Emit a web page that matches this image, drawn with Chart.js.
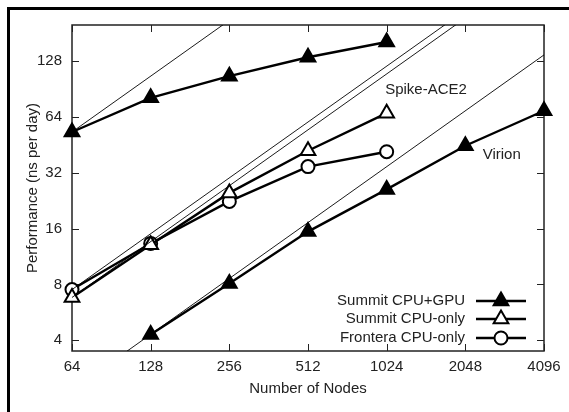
<!DOCTYPE html>
<html>
<head>
<meta charset="utf-8">
<script src="https://cdn.jsdelivr.net/npm/chart.js@4.4.1/dist/chart.umd.min.js"></script>
<style>
  html, body { margin: 0; padding: 0; background: #fff; }
</style>
</head>
<body>
<canvas id="myChart" width="569" height="412"></canvas>
<script>
const nodeTicks = [64, 128, 256, 512, 1024, 2048, 4096];
const perfTicks = [4, 8, 16, 32, 64, 128];

const spikeNodes = [64, 128, 256, 512, 1024];
const spikeGpu = [53, 81, 106, 134, 162];
const spikeCpu = [6.8, 13.1, 24.9, 42, 67];
const fronteraCpu = [7.5, 13.3, 22.4, 34.5, 41.5];

const virionNodes = [128, 256, 512, 1024, 2048, 4096];
const virionGpu = [4.3, 8.1, 15.4, 26, 44.7, 69];

// thin ideal-scaling guides, end points
const idealSpikeGpu = [[64, 53], [256, 212]];
const idealSpikeCpu = [[64, 6.8], [2048, 218]];
const idealFrontera = [[64, 7.5], [2048, 240]];
const idealVirion = [[64, 2.15], [4096, 138]];

const legendNames = ["Summit CPU+GPU", "Summit CPU-only", "Frontera CPU-only"];

const FONT = "'Liberation Sans', Arial, sans-serif";
const ink = "#000";

const pts = (xs, ys) => xs.map((x, i) => ({ x: x, y: ys[i] }));
const pairs = (arr) => arr.map(p => ({ x: p[0], y: p[1] }));

const guide = (data) => ({
  data: pairs(data),
  borderColor: ink,
  borderWidth: 0.9,
  pointRadius: 0,
  fill: false
});

const series = (data, style, filled, r) => ({
  data: data,
  clip: false,
  borderColor: ink,
  borderWidth: 2.4,
  pointStyle: style,
  pointRadius: r,
  pointBorderWidth: 2,
  pointBackgroundColor: filled ? ink : "#fff",
  pointBorderColor: ink,
  fill: false
});

const frame = {
  id: "frame",
  beforeDatasetsDraw(chart) {
    const ctx = chart.ctx;
    const a = chart.chartArea;
    const xs = chart.scales.x;
    const ys = chart.scales.y;
    ctx.save();
    // outer figure border (only top and left visible)
    ctx.strokeStyle = ink;
    ctx.lineWidth = 3;
    ctx.beginPath();
    ctx.moveTo(8.5, 412);
    ctx.lineTo(8.5, 8.5);
    ctx.lineTo(569, 8.5);
    ctx.stroke();

    // plot box
    ctx.lineWidth = 1.5;
    ctx.strokeStyle = "#222";
    ctx.strokeRect(a.left, a.top, a.right - a.left, a.bottom - a.top);

    // inward ticks on all four sides
    ctx.lineWidth = 1;
    ctx.beginPath();
    nodeTicks.forEach(v => {
      const px = Math.round(xs.getPixelForValue(v)) + 0.5;
      ctx.moveTo(px, a.bottom); ctx.lineTo(px, a.bottom - 7);
      ctx.moveTo(px, a.top); ctx.lineTo(px, a.top + 7);
    });
    perfTicks.forEach(v => {
      const py = Math.round(ys.getPixelForValue(v)) + 0.5;
      ctx.moveTo(a.left, py); ctx.lineTo(a.left + 7, py);
      ctx.moveTo(a.right, py); ctx.lineTo(a.right - 7, py);
    });
    ctx.stroke();

    // axis titles
    ctx.fillStyle = "#222";
    ctx.font = "15px " + FONT;
    ctx.textAlign = "center";
    ctx.textBaseline = "middle";
    ctx.fillText("Number of Nodes", (a.left + a.right) / 2, 389);
    ctx.save();
    ctx.translate(33, (a.top + a.bottom) / 2);
    ctx.rotate(-Math.PI / 2);
    ctx.fillText("Performance (ns per day)", 0, 0);
    ctx.restore();

    // case labels
    ctx.fillText("Spike-ACE2", xs.getPixelForValue(1448), ys.getPixelForValue(89));
    ctx.fillText("Virion", xs.getPixelForValue(2823), ys.getPixelForValue(40));

    // legend
    const styles = [["triangle", true, 8.5], ["triangle", false, 8.5], ["circle", false, 6.5]];
    const rows = [a.bottom - 50, a.bottom - 32, a.bottom - 13];
    legendNames.forEach((name, i) => {
      const y = rows[i];
      ctx.fillStyle = "#222";
      ctx.textAlign = "right";
      ctx.fillText(name, a.right - 79, y);
      ctx.strokeStyle = ink;
      ctx.lineWidth = 2.4;
      ctx.beginPath();
      ctx.moveTo(a.right - 68, y);
      ctx.lineTo(a.right - 18, y);
      ctx.stroke();
      ctx.lineWidth = 2;
      ctx.fillStyle = styles[i][1] ? ink : "#fff";
      Chart.helpers.drawPoint(ctx, { pointStyle: styles[i][0], radius: styles[i][2], rotation: 0, borderWidth: 2 }, a.right - 43, y);
    });
    ctx.restore();
  }
};

new Chart(document.getElementById("myChart"), {
  type: "line",
  data: {
    datasets: [
      guide(idealSpikeGpu),
      guide(idealSpikeCpu),
      guide(idealFrontera),
      guide(idealVirion),
      series(pts(spikeNodes, spikeGpu), "triangle", true, 8.5),
      series(pts(spikeNodes, spikeCpu), "triangle", false, 8.5),
      series(pts(spikeNodes, fronteraCpu), "circle", false, 6.5),
      series(pts(virionNodes, virionGpu), "triangle", true, 8.5)
    ]
  },
  options: {
    responsive: false,
    animation: false,
    layout: { padding: { top: 25, right: 25, left: 0, bottom: 0 } },
    plugins: { legend: { display: false }, tooltip: { enabled: false } },
    elements: { line: { tension: 0 } },
    scales: {
      x: {
        type: "logarithmic",
        min: 64,
        max: 4096,
        afterBuildTicks(scale) { scale.ticks = nodeTicks.map(v => ({ value: v })); },
        afterFit(scale) { scale.height = 61; },
        grid: { display: false, drawTicks: false },
        border: { display: false },
        ticks: { color: "#222", padding: 7, font: { family: FONT, size: 15 }, callback: v => String(v), maxRotation: 0, autoSkip: false }
      },
      y: {
        type: "logarithmic",
        min: 3.5,
        max: 200,
        afterBuildTicks(scale) { scale.ticks = perfTicks.map(v => ({ value: v })); },
        afterFit(scale) { scale.width = 72; },
        grid: { display: false, drawTicks: false },
        border: { display: false },
        ticks: { color: "#222", padding: 10, font: { family: FONT, size: 15 }, callback: v => String(v), autoSkip: false }
      }
    }
  },
  plugins: [frame]
});
</script>
</body>
</html>
